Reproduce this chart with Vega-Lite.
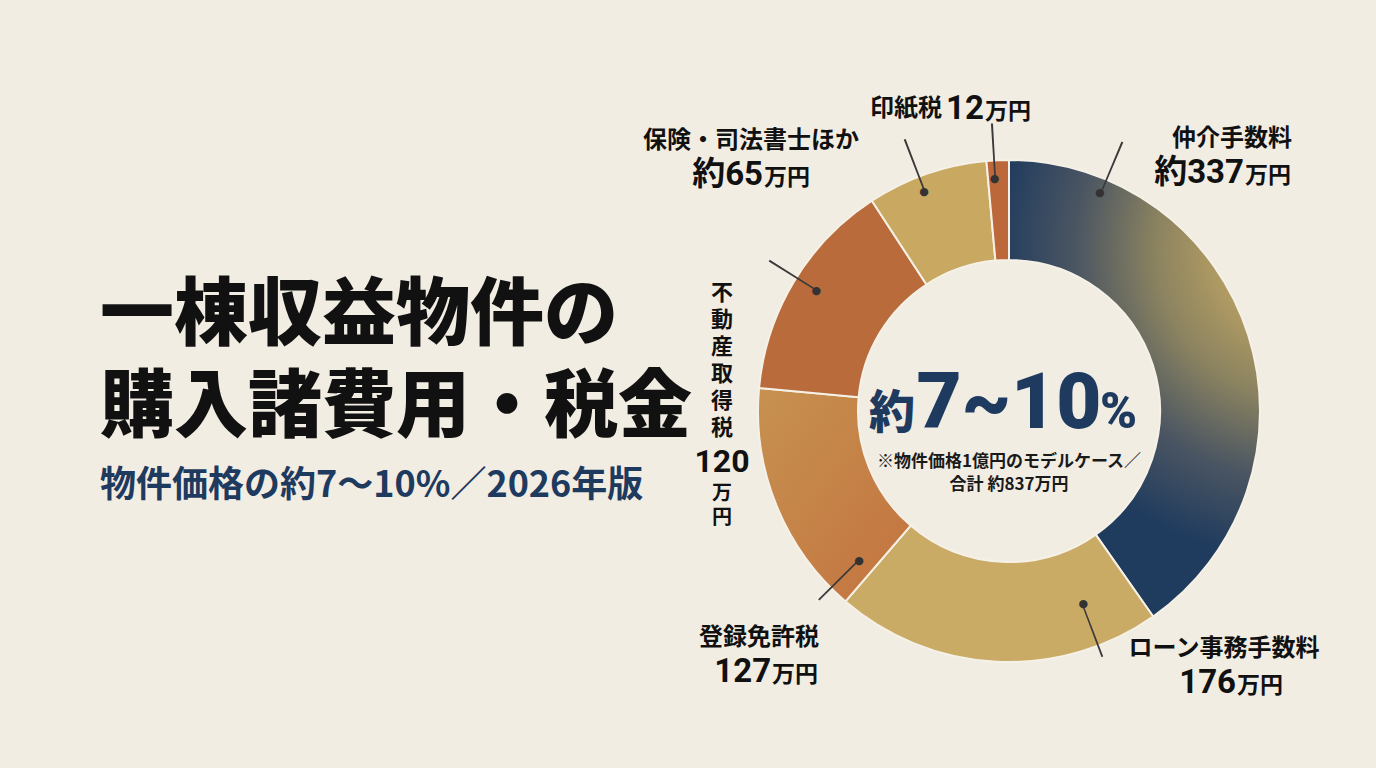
{
  "$schema": "https://vega.github.io/schema/vega-lite/v6.json",
  "background": "#f2ede3",
  "padding": {"left": 100, "top": 54, "right": 0, "bottom": 0},
  "autosize": {"type": "pad"},
  "bounds": "flush",
  "spacing": 0,
  "config": {"view": {"stroke": null}, "text": {"font": "Noto Sans CJK JP"}},
  "datasets": {
    "costs": [
      {"order": 1, "name": "仲介手数料", "value": 337, "approx": true},
      {"order": 2, "name": "ローン事務手数料", "value": 176, "approx": false},
      {"order": 3, "name": "登録免許税", "value": 127, "approx": false},
      {"order": 4, "name": "不動産取得税", "value": 120, "approx": false},
      {"order": 5, "name": "保険・司法書士ほか", "value": 65, "approx": true},
      {"order": 6, "name": "印紙税", "value": 12, "approx": false}
    ]
  },
  "hconcat": [
    {
      "width": 542,
      "height": 217,
      "data": {"values": []},
      "mark": "point",
      "title": {
        "text": ["一棟収益物件の", "購入諸費用・税金"],
        "subtitle": "物件価格の約7〜10%／2026年版",
        "orient": "bottom",
        "anchor": "start",
        "frame": "group",
        "offset": 10,
        "font": "Noto Sans CJK JP",
        "fontSize": 74,
        "fontWeight": 900,
        "lineHeight": 92,
        "color": "#111111",
        "subtitleFont": "Noto Sans CJK JP",
        "subtitleFontSize": 36,
        "subtitleFontWeight": 700,
        "subtitleColor": "#1f3a5f",
        "subtitlePadding": 22
      }
    },
    {
      "width": 734,
      "height": 714,
      "data": {"name": "costs"},
      "resolve": {"scale": {"theta": "independent", "radius": "independent"}},
      "layer": [
        {
          "mark": {"type": "arc", "radius": 251, "radius2": 151, "stroke": "#f6f1e7", "strokeWidth": 2},
          "encoding": {
            "theta": {"field": "value", "type": "quantitative", "stack": true},
            "order": {"field": "order", "type": "quantitative"},
            "color": {
              "condition": [
                {"test": "datum.order === 1", "value": {"gradient": "radial", "x1": 0.87, "y1": 0.2, "r1": 0, "x2": 0.87, "y2": 0.2, "r2": 0.68,
                  "stops": [{"offset": 0, "color": "#c6ab64"}, {"offset": 0.22, "color": "#bba263"}, {"offset": 0.48, "color": "#8a8260"}, {"offset": 0.74, "color": "#4a5562"}, {"offset": 1, "color": "#1f3b5e"}]}},
                {"test": "datum.order === 3", "value": {"gradient": "linear", "x1": 0, "y1": 0, "x2": 1, "y2": 1,
                  "stops": [{"offset": 0, "color": "#c69150"}, {"offset": 1, "color": "#c4733f"}]}}
              ],
              "field": "name",
              "type": "nominal",
              "scale": {
                "domain": ["仲介手数料", "ローン事務手数料", "登録免許税", "不動産取得税", "保険・司法書士ほか", "印紙税"],
                "range": ["#1e3a5e", "#c9ab66", "#c4803f", "#b96b3b", "#c9a962", "#bc683a"]
              },
              "legend": null
            }
          }
        },
        {
          "mark": {"type": "arc", "radius2Offset": 56, "theta2Offset": 0.007, "color": "#3a3a3a"},
          "encoding": {
            "theta": {"field": "order", "type": "quantitative", "stack": false,
              "scale": {"type": "linear", "domain": [1, 2, 3, 4, 5, 6], "range": [0.3953, 2.7751, 3.927, 5.2691, 5.9132, 6.2204], "zero": false, "nice": false}},
            "theta2": {"field": "order"},
            "radius": {"field": "order", "type": "quantitative",
              "scale": {"type": "linear", "domain": [1, 2, 3, 4, 5, 6], "range": [236, 207, 212, 227, 235, 232], "zero": false, "nice": false}},
            "radius2": {"field": "order"}
          }
        },
        {
          "mark": {"type": "text", "text": "●", "font": "DejaVu Sans", "fontSize": 11, "color": "#333333", "align": "center", "baseline": "middle"},
          "encoding": {
            "theta": {"field": "order", "type": "quantitative", "stack": false,
              "scale": {"type": "linear", "domain": [1, 2, 3, 4, 5, 6], "range": [0.3953, 2.7751, 3.927, 5.2691, 5.9132, 6.2204], "zero": false, "nice": false}},
            "radius": {"field": "order", "type": "quantitative",
              "scale": {"type": "linear", "domain": [1, 2, 3, 4, 5, 6], "range": [236, 207, 212, 227, 235, 232], "zero": false, "nice": false}}
          }
        },
        {
          "transform": [{"filter": "datum.order !== 4 && datum.order !== 6"}],
          "mark": {"type": "text", "fontSize": 24, "fontWeight": 700, "color": "#111111", "align": "center", "baseline": "middle", "dy": -16},
          "encoding": {
            "text": {"field": "name", "type": "nominal"},
            "theta": {"field": "order", "type": "quantitative", "stack": false,
              "scale": {"type": "linear", "domain": [1, 2, 3, 4, 5, 6], "range": [0.7166, 2.4391, 3.941, 4.7333, 5.4899, 6.087], "zero": false, "nice": false}},
            "radius": {"field": "order", "type": "quantitative",
              "scale": {"type": "linear", "domain": [1, 2, 3, 4, 5, 6], "range": [339.5, 332.8, 348.6, 287.1, 362, 307.9], "zero": false, "nice": false}}
          }
        },
        {
          "transform": [{"filter": "datum.order !== 4 && datum.order !== 6"}, {"calculate": "(datum.approx ? '約' : '') + datum.value", "as": "numText"}],
          "mark": {"type": "text", "font": "Roboto, Noto Sans CJK JP", "fontSize": 33, "fontWeight": 700, "color": "#111111", "align": "right", "baseline": "alphabetic", "dx": 12, "dy": 28},
          "encoding": {
            "text": {"field": "numText", "type": "nominal"},
            "theta": {"field": "order", "type": "quantitative", "stack": false,
              "scale": {"type": "linear", "domain": [1, 2, 3, 4, 5, 6], "range": [0.7166, 2.4391, 3.941, 4.7333, 5.4899, 6.087], "zero": false, "nice": false}},
            "radius": {"field": "order", "type": "quantitative",
              "scale": {"type": "linear", "domain": [1, 2, 3, 4, 5, 6], "range": [339.5, 332.8, 348.6, 287.1, 362, 307.9], "zero": false, "nice": false}}
          }
        },
        {
          "transform": [{"filter": "datum.order !== 4 && datum.order !== 6"}],
          "mark": {"type": "text", "text": "万円", "fontSize": 23, "fontWeight": 700, "color": "#111111", "align": "left", "baseline": "alphabetic", "dx": 13, "dy": 28},
          "encoding": {
            "theta": {"field": "order", "type": "quantitative", "stack": false,
              "scale": {"type": "linear", "domain": [1, 2, 3, 4, 5, 6], "range": [0.7166, 2.4391, 3.941, 4.7333, 5.4899, 6.087], "zero": false, "nice": false}},
            "radius": {"field": "order", "type": "quantitative",
              "scale": {"type": "linear", "domain": [1, 2, 3, 4, 5, 6], "range": [339.5, 332.8, 348.6, 287.1, 362, 307.9], "zero": false, "nice": false}}
          }
        },
        {
          "transform": [{"filter": "datum.order === 6"}],
          "mark": {"type": "text", "fontSize": 24, "fontWeight": 700, "color": "#111111", "align": "right", "baseline": "middle", "dx": -7},
          "encoding": {
            "text": {"field": "name", "type": "nominal"},
            "theta": {"field": "order", "type": "quantitative", "stack": false,
              "scale": {"type": "linear", "domain": [1, 2, 3, 4, 5, 6], "range": [0.7166, 2.4391, 3.941, 4.7333, 5.4899, 6.087], "zero": false, "nice": false}},
            "radius": {"field": "order", "type": "quantitative",
              "scale": {"type": "linear", "domain": [1, 2, 3, 4, 5, 6], "range": [339.5, 332.8, 348.6, 287.1, 362, 307.9], "zero": false, "nice": false}}
          }
        },
        {
          "transform": [{"filter": "datum.order === 6"}, {"calculate": "'' + datum.value", "as": "numText"}],
          "mark": {"type": "text", "font": "Roboto, Noto Sans CJK JP", "fontSize": 33, "fontWeight": 700, "color": "#111111", "align": "right", "baseline": "alphabetic", "dx": 35, "dy": 10},
          "encoding": {
            "text": {"field": "numText", "type": "nominal"},
            "theta": {"field": "order", "type": "quantitative", "stack": false,
              "scale": {"type": "linear", "domain": [1, 2, 3, 4, 5, 6], "range": [0.7166, 2.4391, 3.941, 4.7333, 5.4899, 6.087], "zero": false, "nice": false}},
            "radius": {"field": "order", "type": "quantitative",
              "scale": {"type": "linear", "domain": [1, 2, 3, 4, 5, 6], "range": [339.5, 332.8, 348.6, 287.1, 362, 307.9], "zero": false, "nice": false}}
          }
        },
        {
          "transform": [{"filter": "datum.order === 6"}],
          "mark": {"type": "text", "text": "万円", "fontSize": 23, "fontWeight": 700, "color": "#111111", "align": "left", "baseline": "alphabetic", "dx": 36, "dy": 10},
          "encoding": {
            "theta": {"field": "order", "type": "quantitative", "stack": false,
              "scale": {"type": "linear", "domain": [1, 2, 3, 4, 5, 6], "range": [0.7166, 2.4391, 3.941, 4.7333, 5.4899, 6.087], "zero": false, "nice": false}},
            "radius": {"field": "order", "type": "quantitative",
              "scale": {"type": "linear", "domain": [1, 2, 3, 4, 5, 6], "range": [339.5, 332.8, 348.6, 287.1, 362, 307.9], "zero": false, "nice": false}}
          }
        },
        {
          "transform": [{"filter": "datum.order === 4"}, {"calculate": "split(datum.name, '')", "as": "chars"}],
          "mark": {"type": "text", "fontSize": 22, "fontWeight": 700, "lineHeight": 27, "color": "#111111", "align": "center", "baseline": "middle", "dy": -112},
          "encoding": {
            "text": {"field": "chars", "type": "nominal"},
            "theta": {"field": "order", "type": "quantitative", "stack": false,
              "scale": {"type": "linear", "domain": [1, 2, 3, 4, 5, 6], "range": [0.7166, 2.4391, 3.941, 4.7333, 5.4899, 6.087], "zero": false, "nice": false}},
            "radius": {"field": "order", "type": "quantitative",
              "scale": {"type": "linear", "domain": [1, 2, 3, 4, 5, 6], "range": [339.5, 332.8, 348.6, 287.1, 362, 307.9], "zero": false, "nice": false}}
          }
        },
        {
          "transform": [{"filter": "datum.order === 4"}, {"calculate": "'' + datum.value", "as": "numText"}],
          "mark": {"type": "text", "font": "Roboto, Noto Sans CJK JP", "fontSize": 32, "fontWeight": 700, "color": "#111111", "align": "center", "baseline": "middle", "dy": 57},
          "encoding": {
            "text": {"field": "numText", "type": "nominal"},
            "theta": {"field": "order", "type": "quantitative", "stack": false,
              "scale": {"type": "linear", "domain": [1, 2, 3, 4, 5, 6], "range": [0.7166, 2.4391, 3.941, 4.7333, 5.4899, 6.087], "zero": false, "nice": false}},
            "radius": {"field": "order", "type": "quantitative",
              "scale": {"type": "linear", "domain": [1, 2, 3, 4, 5, 6], "range": [339.5, 332.8, 348.6, 287.1, 362, 307.9], "zero": false, "nice": false}}
          }
        },
        {
          "transform": [{"filter": "datum.order === 4"}],
          "mark": {"type": "text", "text": ["万", "円"], "fontSize": 20, "fontWeight": 700, "lineHeight": 24, "color": "#111111", "align": "center", "baseline": "middle", "dy": 89},
          "encoding": {
            "theta": {"field": "order", "type": "quantitative", "stack": false,
              "scale": {"type": "linear", "domain": [1, 2, 3, 4, 5, 6], "range": [0.7166, 2.4391, 3.941, 4.7333, 5.4899, 6.087], "zero": false, "nice": false}},
            "radius": {"field": "order", "type": "quantitative",
              "scale": {"type": "linear", "domain": [1, 2, 3, 4, 5, 6], "range": [339.5, 332.8, 348.6, 287.1, 362, 307.9], "zero": false, "nice": false}}
          }
        },
        {
          "data": {"values": [{"part": "prefix"}]},
          "mark": {"type": "text", "text": "約", "fontSize": 46, "fontWeight": 900, "color": "#1e3a5f", "align": "right", "baseline": "alphabetic", "dx": -94, "dy": 17}
        },
        {
          "data": {"values": [{"part": "range"}]},
          "mark": {"type": "text", "text": "7~10", "font": "Roboto, Noto Sans CJK JP", "fontSize": 78, "fontWeight": 900, "color": "#1e3a5f", "align": "center", "baseline": "alphabetic", "dy": 17}
        },
        {
          "data": {"values": [{"part": "unit"}]},
          "mark": {"type": "text", "text": "%", "font": "Roboto, Noto Sans CJK JP", "fontSize": 50, "fontWeight": 900, "color": "#1e3a5f", "align": "left", "baseline": "alphabetic", "dx": 91, "dy": 17}
        },
        {
          "data": {"values": [{"part": "note"}]},
          "mark": {"type": "text", "text": ["※物件価格1億円のモデルケース／", "合計 約837万円"], "fontSize": 17, "fontWeight": 700, "lineHeight": 23, "color": "#1a1a1a", "align": "center", "baseline": "middle", "dy": 51}
        }
      ]
    }
  ]
}
